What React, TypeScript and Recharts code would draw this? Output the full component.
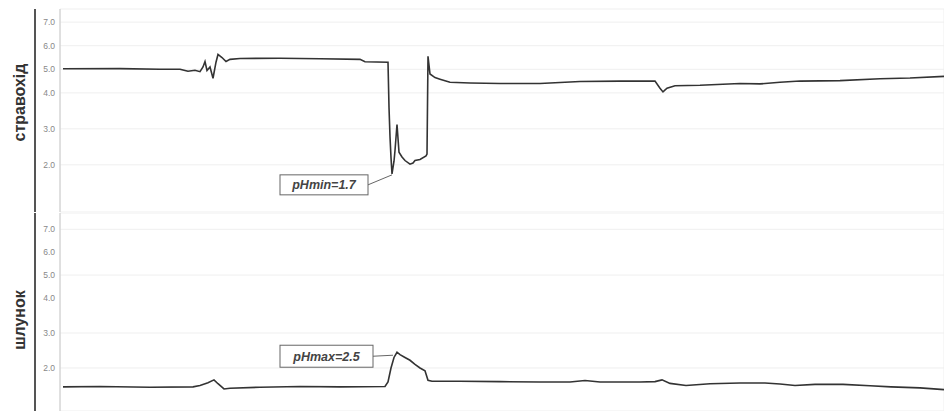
import { CartesianGrid, Line, LineChart, ReferenceDot, XAxis, YAxis } from "recharts";

// time in samples (arbitrary units), pH values
const esoTime = [
  0, 57, 97, 117, 125, 132, 137, 140, 142, 144, 147, 150, 153, 155, 159, 163, 167, 177, 217, 257, 297,
  302, 325, 326, 327, 328, 329, 331, 332, 334, 336, 339, 342, 347, 350, 352, 357, 363, 364, 365, 367,
  372, 377, 387, 407, 437, 477, 517, 557, 592, 597, 600, 604, 612, 637, 677, 697, 717, 737, 777, 817,
  847, 881,
];
const esoPH = [
  5.02, 5.03, 5.0, 5.0, 4.92, 4.96, 4.9, 5.1, 5.33, 4.95, 5.1, 4.62, 5.3, 5.63, 5.5, 5.33, 5.42, 5.46,
  5.47, 5.45, 5.42, 5.32, 5.3, 3.6, 2.78, 2.2, 1.75, 2.1, 2.4, 3.12, 2.35, 2.22, 2.12, 2.02, 2.05, 2.12,
  2.15, 2.25, 2.3, 5.55, 4.8, 4.65, 4.58, 4.45, 4.42, 4.4, 4.4, 4.48, 4.5, 4.5, 4.2, 4.04, 4.2, 4.3,
  4.32, 4.4, 4.38, 4.45, 4.5, 4.52, 4.6, 4.63, 4.7,
];

const stomTime = [
  0, 37, 87, 130, 137, 145, 151, 155, 161, 167, 197, 237, 277, 322, 325, 328, 331, 334, 337, 342, 347,
  352, 357, 362, 365, 369, 397, 437, 477, 507, 522, 537, 577, 592, 599, 607, 623, 647, 677, 702, 717,
  732, 752, 780, 807, 828, 857, 881,
];
const stomPH = [
  1.46, 1.47, 1.45, 1.46, 1.5, 1.58, 1.66, 1.55, 1.4, 1.42, 1.45, 1.47, 1.46, 1.47, 1.6, 2.0, 2.3, 2.45,
  2.38, 2.3, 2.22, 2.1, 2.0, 1.92, 1.65, 1.62, 1.62, 1.61, 1.6, 1.6, 1.64, 1.6, 1.6, 1.61, 1.66, 1.56,
  1.5, 1.55, 1.57, 1.57, 1.54, 1.5, 1.53, 1.53, 1.49, 1.46, 1.43, 1.38,
];

const phTicks = [2, 3, 4, 5, 6, 7];
const gridTimes = [62, 127, 190, 257, 323, 388, 452, 515, 577, 640, 702, 765, 827];

const minLabel = "pHmin=1.7";
const maxLabel = "pHmax=2.5";

// recorder scale: 1–4 stretched, 4–7 compressed
const squash = (ph: number) => (ph <= 4 ? ph : 4 + (ph - 4) * 0.655);

const esoData = esoTime.map((t, i) => ({ t, ph: esoPH[i] }));
const stomData = stomTime.map((t, i) => ({ t, ph: stomPH[i] }));

const W = 944;
const FONT = "'Liberation Sans', Arial, sans-serif";

function Callout({ cx, cy, text, box, lead }: any) {
  const [bx, by, bw, bh] = box;
  return (
    <g>
      <line x1={cx + bx + bw} y1={cy + by + bh / 2} x2={cx + lead[0]} y2={cy + lead[1]} stroke="#666" strokeWidth={1} />
      <rect x={cx + bx} y={cy + by} width={bw} height={bh} fill="#fff" stroke="#666" strokeWidth={1} />
      <text
        x={cx + bx + bw / 2}
        y={cy + by + bh / 2 + 4.5}
        textAnchor="middle"
        fontFamily={FONT}
        fontSize={12.5}
        fontStyle="italic"
        fontWeight="bold"
        fill="#444"
      >
        {text}
      </text>
    </g>
  );
}

function Panel({ data, height, top, domain, title, titleDy, showBottomLine, callout }: any) {
  return (
    <LineChart width={W} height={height} data={data} margin={{ top, right: 0, bottom: 0, left: 0 }}>
      <CartesianGrid stroke="#efefef" />
      <XAxis
        dataKey="t"
        type="number"
        domain={[-3, 881]}
        ticks={gridTimes}
        tick={false}
        tickLine={false}
        height={0}
        axisLine={showBottomLine ? { stroke: "#666", strokeWidth: 1.2 } : false}
      />
      <YAxis
        type="number"
        domain={domain}
        ticks={phTicks.map(squash)}
        tickFormatter={(v: number) => phTicks[phTicks.map(squash).findIndex((s) => Math.abs(s - v) < 1e-6)].toFixed(1)}
        width={25}
        tickLine={false}
        tickSize={0}
        tickMargin={5}
        axisLine={{ stroke: "#c8c8c8" }}
        tick={{ fontSize: 8.5, fill: "#888", fontFamily: FONT }}
        allowDataOverflow
      />
      <YAxis
        yAxisId="outer"
        type="number"
        domain={[0, 1]}
        width={35}
        tick={false}
        tickLine={false}
        axisLine={{ stroke: "#555", strokeWidth: 2 }}
        label={{
          value: title,
          angle: -90,
          position: "center",
          dy: titleDy,
          dx: 2,
          style: { fontSize: 16, fontWeight: "bold", fill: "#333", fontFamily: FONT },
        }}
      />
      <Line
        dataKey={(d: any) => squash(d.ph)}
        type="linear"
        stroke="#333"
        strokeWidth={1.6}
        dot={false}
        isAnimationActive={false}
      />
      <ReferenceDot
        x={callout.t}
        y={squash(callout.ph)}
        r={0}
        shape={(p: any) => <Callout cx={p.cx} cy={p.cy} text={callout.text} box={callout.box} lead={callout.lead} />}
      />
    </LineChart>
  );
}

export default function App() {
  return (
    <div style={{ position: "absolute", left: 0, top: 0, width: W, height: 411, background: "#fff" }}>
      <Panel
        data={esoData}
        height={212}
        top={9}
        domain={[0.69, 6.33]}
        title="стравохід"
        titleDy={-8}
        showBottomLine
        callout={{ t: 329, ph: 1.75, text: minLabel, box: [-112, 1, 88, 20], lead: [0, 1] }}
      />
      <Panel
        data={stomData}
        height={199}
        top={1}
        domain={[0.77, 6.43]}
        title="шлунок"
        titleDy={8}
        showBottomLine={false}
        callout={{ t: 334, ph: 2.45, text: maxLabel, box: [-117, -7, 93, 22], lead: [-4, 3] }}
      />
    </div>
  );
}
